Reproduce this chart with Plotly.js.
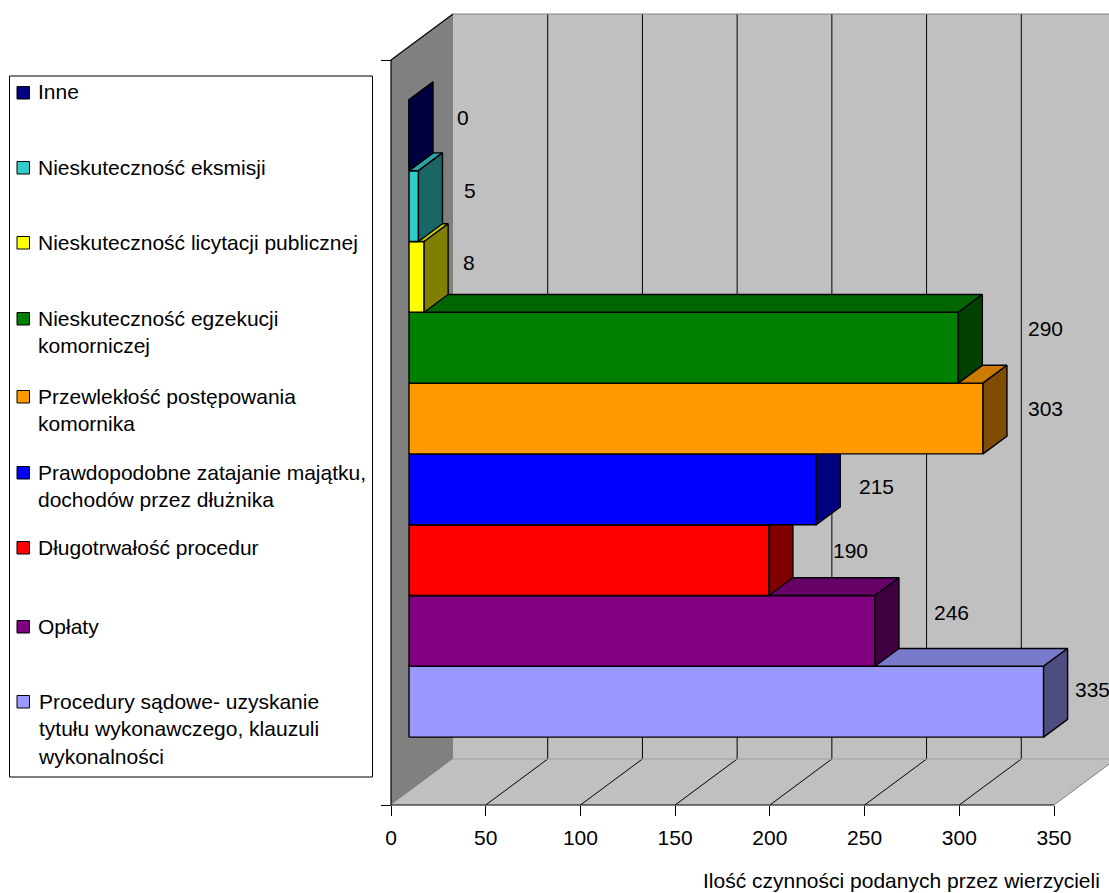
<!DOCTYPE html>
<html>
<head>
<meta charset="utf-8">
<script src="https://cdn.plot.ly/plotly-3.0.1.min.js"></script>
<style>
  html, body { margin: 0; padding: 0; background: #ffffff; }
  #chart { width: 1109px; height: 893px; }
</style>
</head>
<body>
<div id="chart"></div>
<script>
// Categories, listed from the bottom bar upward
const categories = [
  'Procedury sądowe- uzyskanie tytułu wykonawczego, klauzuli wykonalności',
  'Opłaty',
  'Długotrwałość procedur',
  'Prawdopodobne zatajanie majątku, dochodów przez dłużnika',
  'Przewlekłość postępowania komornika',
  'Nieskuteczność egzekucji komorniczej',
  'Nieskuteczność licytacji publicznej',
  'Nieskuteczność eksmisji',
  'Inne'
];
const values = [335, 246, 190, 215, 303, 290, 8, 5, 0];
const barColors = ['#9999FF', '#800080', '#FF0000', '#0000FF', '#FF9900',
                   '#008000', '#FFFF00', '#33CCCC', '#000080'];
// Legend text with its line breaks, same order as categories
const legendLabels = [
  'Procedury sądowe- uzyskanie<br>tytułu wykonawczego, klauzuli<br>wykonalności',
  'Opłaty',
  'Długotrwałość procedur',
  'Prawdopodobne zatajanie majątku,<br>dochodów przez dłużnika',
  'Przewlekłość postępowania<br>komornika',
  'Nieskuteczność egzekucji<br>komorniczej',
  'Nieskuteczność licytacji publicznej',
  'Nieskuteczność eksmisji',
  'Inne'
];
const tickValues = [0, 50, 100, 150, 200, 250, 300, 350];
const axisTitle = 'Ilość czynności podanych przez wierzycieli';

// ---- page / projection geometry (pixels) ----
const W = 1109, H = 893;
const FONT = 'Arial, "Liberation Sans", sans-serif';
const X0PX = 391;              // pixel of value 0 on the front edge
const PXU = 663 / 350;         // pixels per value unit
const U0PX = 715.05;           // pixel row of u = 0
const PXC = 70.8;              // pixels per category slot
const KX = 62 / PXU;           // depth shift along x (value units)
const KY = 46 / PXC;           // depth shift along y (category units)
const D0 = 18 / 62, D1 = 42 / 62;   // bar front / back depth
const C_FLOOR = (U0PX - 805) / PXC;
const C_TOP = (U0PX - 60) / PXC;
const VMAX = 350;

// Manual placement of value labels (pixel nudges), bottom bar upward
const labelDx = [5, 33, 38, 17, 19, 44, 13, 20, 22];
const labelDy = [6, -1, 8, 15, 8, -1, 3, 2, 0];
// First text line centre of each legend row, top to bottom
const legendRowPx = [93, 168, 243, 319, 397, 473, 548, 627, 702];

const P = (v, c, d) => [v + KX * d, c + KY * d];
const px2x = p => p / W;
const py2y = p => 1 - p / H;

function shade(hex, f) {
  const n = parseInt(hex.slice(1), 16);
  const r = Math.round(((n >> 16) & 255) * f);
  const g = Math.round(((n >> 8) & 255) * f);
  const b = Math.round((n & 255) * f);
  return 'rgb(' + r + ',' + g + ',' + b + ')';
}
function pathOf(pts) {
  return 'M ' + pts.map(p => p[0] + ',' + p[1]).join(' L ') + ' Z';
}
function linePath(a, b) {
  return 'M ' + a[0] + ',' + a[1] + ' L ' + b[0] + ',' + b[1];
}

// ---- walls, floor and grid ----
const shapes = [];
shapes.push({ type: 'path', xref: 'x', yref: 'y', layer: 'below',
  path: pathOf([P(0, C_FLOOR, 1), P(0, C_TOP, 1), P(VMAX + 40, C_TOP, 1), P(VMAX + 40, C_FLOOR, 1)]),
  fillcolor: '#C0C0C0', line: { width: 0 } });
shapes.push({ type: 'path', xref: 'x', yref: 'y', layer: 'below',
  path: pathOf([P(0, C_FLOOR, 0), P(VMAX, C_FLOOR, 0), P(VMAX, C_FLOOR, 1), P(0, C_FLOOR, 1)]),
  fillcolor: '#C0C0C0', line: { width: 0 } });
shapes.push({ type: 'path', xref: 'x', yref: 'y', layer: 'below',
  path: pathOf([P(0, C_FLOOR, 0), P(0, C_TOP, 0), P(0, C_TOP, 1), P(0, C_FLOOR, 1)]),
  fillcolor: '#808080', line: { width: 0 } });
// back-wall gridlines and floor lines
tickValues.forEach(v => {
  if (v === 0) return;
  shapes.push({ type: 'path', xref: 'x', yref: 'y', layer: 'below',
    path: linePath(P(v, C_FLOOR, 1), P(v, C_TOP, 1)), line: { color: '#000000', width: 1 } });
  shapes.push({ type: 'path', xref: 'x', yref: 'y', layer: 'below',
    path: linePath(P(v, C_FLOOR, 0), P(v, C_FLOOR, 1)),
    line: { color: v === VMAX ? '#808080' : '#000000', width: 1 } });
});
// wall edges
shapes.push({ type: 'path', xref: 'x', yref: 'y', layer: 'below',
  path: linePath(P(0, C_TOP, 1), P(VMAX + 40, C_TOP, 1)), line: { color: '#808080', width: 1 } });
shapes.push({ type: 'path', xref: 'x', yref: 'y', layer: 'below',
  path: linePath(P(0, C_FLOOR, 1), P(VMAX + 40, C_FLOOR, 1)), line: { color: '#A0A0A0', width: 1 } });
shapes.push({ type: 'path', xref: 'x', yref: 'y', layer: 'below',
  path: linePath(P(0, C_FLOOR, 0), P(0, C_TOP, 0)), line: { color: '#000000', width: 1.2 } });
shapes.push({ type: 'path', xref: 'x', yref: 'y', layer: 'below',
  path: linePath(P(0, C_TOP, 0), P(0, C_TOP, 1)), line: { color: '#000000', width: 1.2 } });
shapes.push({ type: 'path', xref: 'x', yref: 'y', layer: 'below',
  path: linePath(P(0, C_FLOOR, 0), P(VMAX, C_FLOOR, 0)), line: { color: '#000000', width: 1.2 } });

// ---- 3D bars: front, top and side faces, painted bottom bar first ----
const traces = [];
function face(pts, color) {
  const xs = pts.map(p => p[0]); xs.push(pts[0][0]);
  const ys = pts.map(p => p[1]); ys.push(pts[0][1]);
  traces.push({ type: 'scatter', mode: 'lines', x: xs, y: ys, fill: 'toself',
    fillcolor: color, line: { color: '#000000', width: 1.4 },
    hoverinfo: 'skip', showlegend: false });
}
values.forEach((v, i) => {
  const col = barColors[i];
  const lo = i - 0.5, hi = i + 0.5;
  face([P(0, lo, D0), P(v, lo, D0), P(v, hi, D0), P(0, hi, D0)], col);
  face([P(0, hi, D0), P(v, hi, D0), P(v, hi, D1), P(0, hi, D1)], shade(col, 0.8));
  face([P(v, lo, D0), P(v, hi, D0), P(v, hi, D1), P(v, lo, D1)], shade(col, 0.5));
});

// ---- annotations: value labels, legend text, axis title ----
const annotations = [];
values.forEach((v, i) => {
  const p = P(v, i, D1);
  annotations.push({ x: p[0], y: p[1], xref: 'x', yref: 'y', text: String(v),
    showarrow: false, xanchor: 'left', yanchor: 'middle',
    xshift: labelDx[i], yshift: -labelDy[i],
    font: { family: FONT, size: 21, color: '#000000' } });
});

// legend box
shapes.push({ type: 'rect', xref: 'paper', yref: 'paper', layer: 'above',
  x0: px2x(9.5), x1: px2x(372.5), y0: py2y(777), y1: py2y(76),
  fillcolor: 'rgba(0,0,0,0)', line: { color: '#000000', width: 1 } });
legendRowPx.forEach((rowY, k) => {
  const i = categories.length - 1 - k;
  shapes.push({ type: 'rect', xref: 'paper', yref: 'paper', layer: 'above',
    x0: px2x(17), x1: px2x(29.5), y0: py2y(rowY + 6), y1: py2y(rowY - 6.5),
    fillcolor: barColors[i], line: { color: '#000000', width: 1 } });
  annotations.push({ x: px2x(36), y: py2y(rowY - 14.5), xref: 'paper', yref: 'paper',
    text: legendLabels[i], showarrow: false, xanchor: 'left', yanchor: 'top', align: 'left',
    font: { family: FONT, size: 21, color: '#000000' } });
});

annotations.push({ x: px2x(1102), y: py2y(880), xref: 'paper', yref: 'paper',
  text: axisTitle, showarrow: false, xanchor: 'right', yanchor: 'middle',
  font: { family: FONT, size: 21, color: '#000000' } });

const layout = {
  width: W, height: H,
  margin: { l: 0, r: 0, t: 0, b: 0, pad: 0 },
  paper_bgcolor: '#ffffff', plot_bgcolor: 'rgba(0,0,0,0)',
  showlegend: false, hovermode: false,
  xaxis: {
    range: [-X0PX / PXU, (W - X0PX) / PXU],
    anchor: 'free', position: (H - 805) / H,
    tickmode: 'array', tickvals: tickValues, ticktext: tickValues.map(String),
    ticks: 'outside', ticklen: 10, tickwidth: 1, tickcolor: '#000000',
    ticklabelstandoff: 4,
    tickfont: { family: FONT, size: 21, color: '#000000' },
    showgrid: false, zeroline: false, showline: false, fixedrange: true
  },
  yaxis: {
    range: [(U0PX - H) / PXC, U0PX / PXC],
    anchor: 'free', position: X0PX / W,
    tickmode: 'array', tickvals: [C_FLOOR, C_TOP],
    ticks: 'outside', ticklen: 10, tickwidth: 1, tickcolor: '#000000',
    showticklabels: false,
    showgrid: false, zeroline: false, showline: false, fixedrange: true
  },
  shapes: shapes,
  annotations: annotations
};

Plotly.newPlot('chart', traces, layout, { staticPlot: true, displayModeBar: false });
</script>
</body>
</html>
